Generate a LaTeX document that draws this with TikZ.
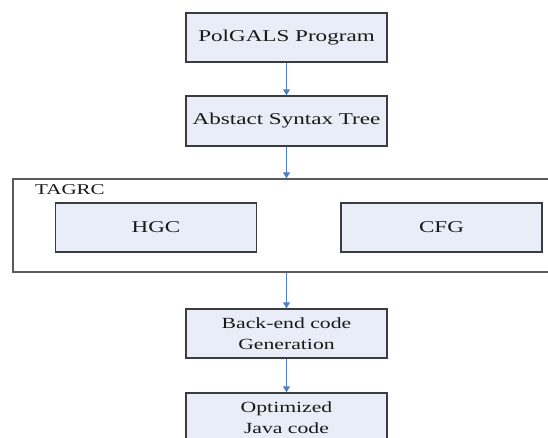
\documentclass[tikz,border=0pt]{standalone}
\usepackage{fontspec}
\newfontfamily\wf[FakeStretch=1.4]{Liberation Serif}
\usetikzlibrary{arrows.meta}
\definecolor{boxfill}{RGB}{232,237,247}
\definecolor{boxline}{RGB}{60,60,64}
\definecolor{frameline}{RGB}{90,90,90}
\definecolor{arrowblue}{RGB}{79,127,191}
\definecolor{txt}{RGB}{25,25,25}
\tikzset{
  stepbox/.style={draw=boxline, line width=1.5pt, fill=boxfill, minimum width=201pt,
    minimum height=49pt, inner sep=0pt, align=center, text=txt,
    font=\wf\fontsize{16.5}{19}\selectfont},
  twoline/.style={font=\wf\fontsize{15.5}{20.5}\selectfont},
  framebox/.style={draw=frameline, line width=1.4pt, minimum width=550pt, minimum height=93pt, inner sep=0pt},
  flow/.style={draw=arrowblue, line width=1.3pt, -{Triangle[length=6pt,width=7pt]}}
}
\begin{document}
\begin{tikzpicture}[x=1pt,y=-1pt]
\clip (0,0) rectangle (548,437);
\fill[white] (0,0) rectangle (548,437);
\node[stepbox] (prog) at (286.5,37.5) {PolGALS Program};
\node[stepbox, minimum height=50pt] (ast) at (286.5,121) {Abstact Syntax Tree};
\node[framebox] (tagrc) at (288,225.5) {};
\node[anchor=base west, inner sep=0pt, text=txt, font=\wf\fontsize{15}{18}\selectfont] (tagrclabel) at (35,194) {TAGRC};
\node[stepbox] (hgc) at (156,227.5) {HGC};
\node[stepbox] (cfg) at (441.5,227.5) {CFG};
\node[stepbox, twoline] (back) at (286.5,333.5) {Back-end code\\Generation};
\node[stepbox, twoline] (opt) at (286.5,417.5) {Optimized\\Java code};
\draw[flow] (prog.south) -- (ast.north);
\draw[flow] (ast.south) -- (ast.south |- tagrc.north);
\draw[flow] (back.north |- tagrc.south) -- (back.north);
\draw[flow] (back.south) -- (opt.north);
\end{tikzpicture}
\end{document}
